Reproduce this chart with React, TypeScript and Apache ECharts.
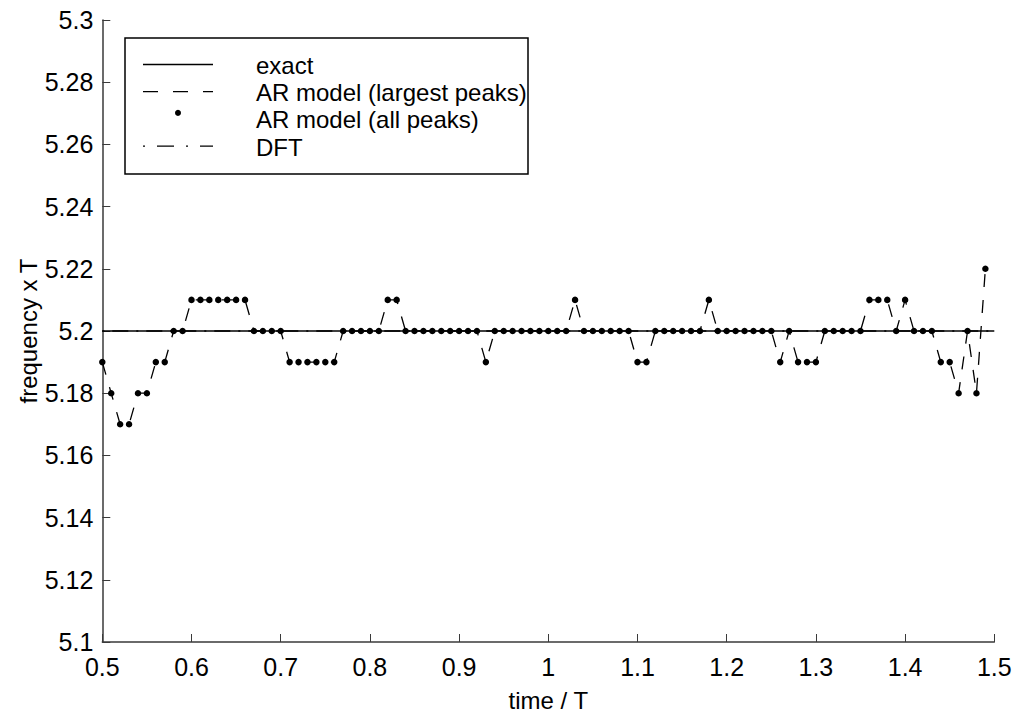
import React, { useEffect, useRef } from "react";
import * as echarts from "echarts";

const times: number[] = [
  0.5, 0.51, 0.52, 0.53, 0.54, 0.55, 0.56, 0.57, 0.58, 0.59,
  0.6, 0.61, 0.62, 0.63, 0.64, 0.65, 0.66, 0.67, 0.68, 0.69,
  0.7, 0.71, 0.72, 0.73, 0.74, 0.75, 0.76, 0.77, 0.78, 0.79,
  0.8, 0.81, 0.82, 0.83, 0.84, 0.85, 0.86, 0.87, 0.88, 0.89,
  0.9, 0.91, 0.92, 0.93, 0.94, 0.95, 0.96, 0.97, 0.98, 0.99,
  1.0, 1.01, 1.02, 1.03, 1.04, 1.05, 1.06, 1.07, 1.08, 1.09,
  1.1, 1.11, 1.12, 1.13, 1.14, 1.15, 1.16, 1.17, 1.18, 1.19,
  1.2, 1.21, 1.22, 1.23, 1.24, 1.25, 1.26, 1.27, 1.28, 1.29,
  1.3, 1.31, 1.32, 1.33, 1.34, 1.35, 1.36, 1.37, 1.38, 1.39,
  1.4, 1.41, 1.42, 1.43, 1.44, 1.45, 1.46, 1.47, 1.48, 1.49,
];

const arPeaks: number[] = [
  5.19, 5.18, 5.17, 5.17, 5.18, 5.18, 5.19, 5.19, 5.2, 5.2,
  5.21, 5.21, 5.21, 5.21, 5.21, 5.21, 5.21, 5.2, 5.2, 5.2,
  5.2, 5.19, 5.19, 5.19, 5.19, 5.19, 5.19, 5.2, 5.2, 5.2,
  5.2, 5.2, 5.21, 5.21, 5.2, 5.2, 5.2, 5.2, 5.2, 5.2,
  5.2, 5.2, 5.2, 5.19, 5.2, 5.2, 5.2, 5.2, 5.2, 5.2,
  5.2, 5.2, 5.2, 5.21, 5.2, 5.2, 5.2, 5.2, 5.2, 5.2,
  5.19, 5.19, 5.2, 5.2, 5.2, 5.2, 5.2, 5.2, 5.21, 5.2,
  5.2, 5.2, 5.2, 5.2, 5.2, 5.2, 5.19, 5.2, 5.19, 5.19,
  5.19, 5.2, 5.2, 5.2, 5.2, 5.2, 5.21, 5.21, 5.21, 5.2,
  5.21, 5.2, 5.2, 5.2, 5.19, 5.19, 5.18, 5.2, 5.18, 5.22,
];

const exactTimes: number[] = [0.5, 1.5];
const exactValues: number[] = [5.2, 5.2];
const dftValues: number[] = [5.2, 5.2];

const legendLabels: string[] = ["exact", "AR model (largest peaks)", "AR model (all peaks)", "DFT"];

const FONT = "'Liberation Sans', Arial, Helvetica, sans-serif";

export default function App() {
  const ref = useRef<HTMLDivElement>(null);

  useEffect(() => {
    if (!ref.current) return;
    const chart = echarts.init(ref.current, undefined, { renderer: "svg" });

    const arData = times.map((t, i) => [t, arPeaks[i]]);
    const exactData = exactTimes.map((t, i) => [t, exactValues[i]]);
    const dftData = exactTimes.map((t, i) => [t, dftValues[i]]);

    const axisColor = "#3a3a3a";
    const rowY = [64.5, 91.7, 118.9, 146.1];
    const lx0 = 143;
    const lx1 = 213;
    const tx = 256;

    const option: any = {
      animation: false,
      backgroundColor: "#ffffff",
      grid: { left: 102.3, top: 20, width: 892, height: 627.5, containLabel: false },
      xAxis: {
        type: "value",
        min: 0.5,
        max: 1.5,
        interval: 0.1,
        name: "time / T",
        nameLocation: "middle",
        nameGap: 46,
        nameMoveOverlap: false,
        nameTextStyle: { color: "#000", fontSize: 24, fontFamily: FONT },
        axisLine: { show: true, lineStyle: { color: axisColor, width: 1.5 } },
        axisTick: { show: true, inside: true, length: 8, lineStyle: { color: axisColor, width: 1 } },
        axisLabel: { color: "#000", fontSize: 25, fontFamily: FONT, margin: 12 },
        splitLine: { show: false },
      },
      yAxis: {
        type: "value",
        min: 5.1,
        max: 5.3,
        interval: 0.02,
        name: "frequency x T",
        nameLocation: "middle",
        nameGap: 62,
        nameMoveOverlap: false,
        nameRotate: 90,
        nameTextStyle: { color: "#000", fontSize: 24, fontFamily: FONT },
        axisLine: { show: true, lineStyle: { color: axisColor, width: 1.5 } },
        axisTick: { show: true, inside: true, length: 8, lineStyle: { color: axisColor, width: 1 } },
        axisLabel: {
          color: "#000",
          fontSize: 25,
          fontFamily: FONT,
          margin: 9,
          formatter: (v: number) => String(Math.round(v * 100) / 100),
        },
        splitLine: { show: false },
      },
      series: [
        {
          name: "exact",
          type: "line",
          data: exactData,
          symbol: "none",
          lineStyle: { color: "#000", width: 1.3, type: "solid" },
          z: 3,
        },
        {
          name: "AR model (largest peaks)",
          type: "line",
          data: arData,
          symbol: "none",
          lineStyle: { color: "#000", width: 1.3, type: [13, 13] },
          z: 4,
        },
        {
          name: "AR model (all peaks)",
          type: "scatter",
          data: arData,
          symbol: "circle",
          symbolSize: 6.5,
          itemStyle: { color: "#000", opacity: 1 },
          z: 5,
        },
        {
          name: "DFT",
          type: "line",
          data: dftData,
          symbol: "none",
          lineStyle: { color: "#000", width: 1.3, type: [2, 8, 16, 8] },
          z: 3,
        },
      ],
      graphic: [
        {
          type: "rect",
          shape: { x: 125, y: 38, width: 403, height: 136 },
          style: { fill: "#fff", stroke: "#000", lineWidth: 1.5 },
          z: 10,
        },
        {
          type: "line",
          shape: { x1: lx0, y1: rowY[0], x2: lx1, y2: rowY[0] },
          style: { stroke: "#000", lineWidth: 1.3 },
          z: 11,
        },
        {
          type: "line",
          shape: { x1: lx0, y1: rowY[1], x2: lx1, y2: rowY[1] },
          style: { stroke: "#000", lineWidth: 1.3, lineDash: [15, 15] },
          z: 11,
        },
        {
          type: "circle",
          shape: { cx: (lx0 + lx1) / 2, cy: rowY[2] - 6, r: 3 },
          style: { fill: "#000" },
          z: 11,
        },
        {
          type: "line",
          shape: { x1: lx0, y1: rowY[3], x2: lx1, y2: rowY[3] },
          style: { stroke: "#000", lineWidth: 1.3, lineDash: [2, 12, 17, 12] },
          z: 11,
        },
        ...legendLabels.map((label, i) => ({
          type: "text",
          x: tx,
          y: rowY[i] + 1,
          style: {
            text: label,
            fill: "#000",
            fontSize: 24,
            fontFamily: FONT,
            verticalAlign: "middle",
            align: "left",
          },
          z: 11,
        })),
      ],
    };

    chart.setOption(option);
    return () => chart.dispose();
  }, []);

  return (
    <div
      ref={ref}
      style={{ position: "absolute", left: 0, top: 0, width: 1021, height: 717, background: "#fff" }}
    />
  );
}
